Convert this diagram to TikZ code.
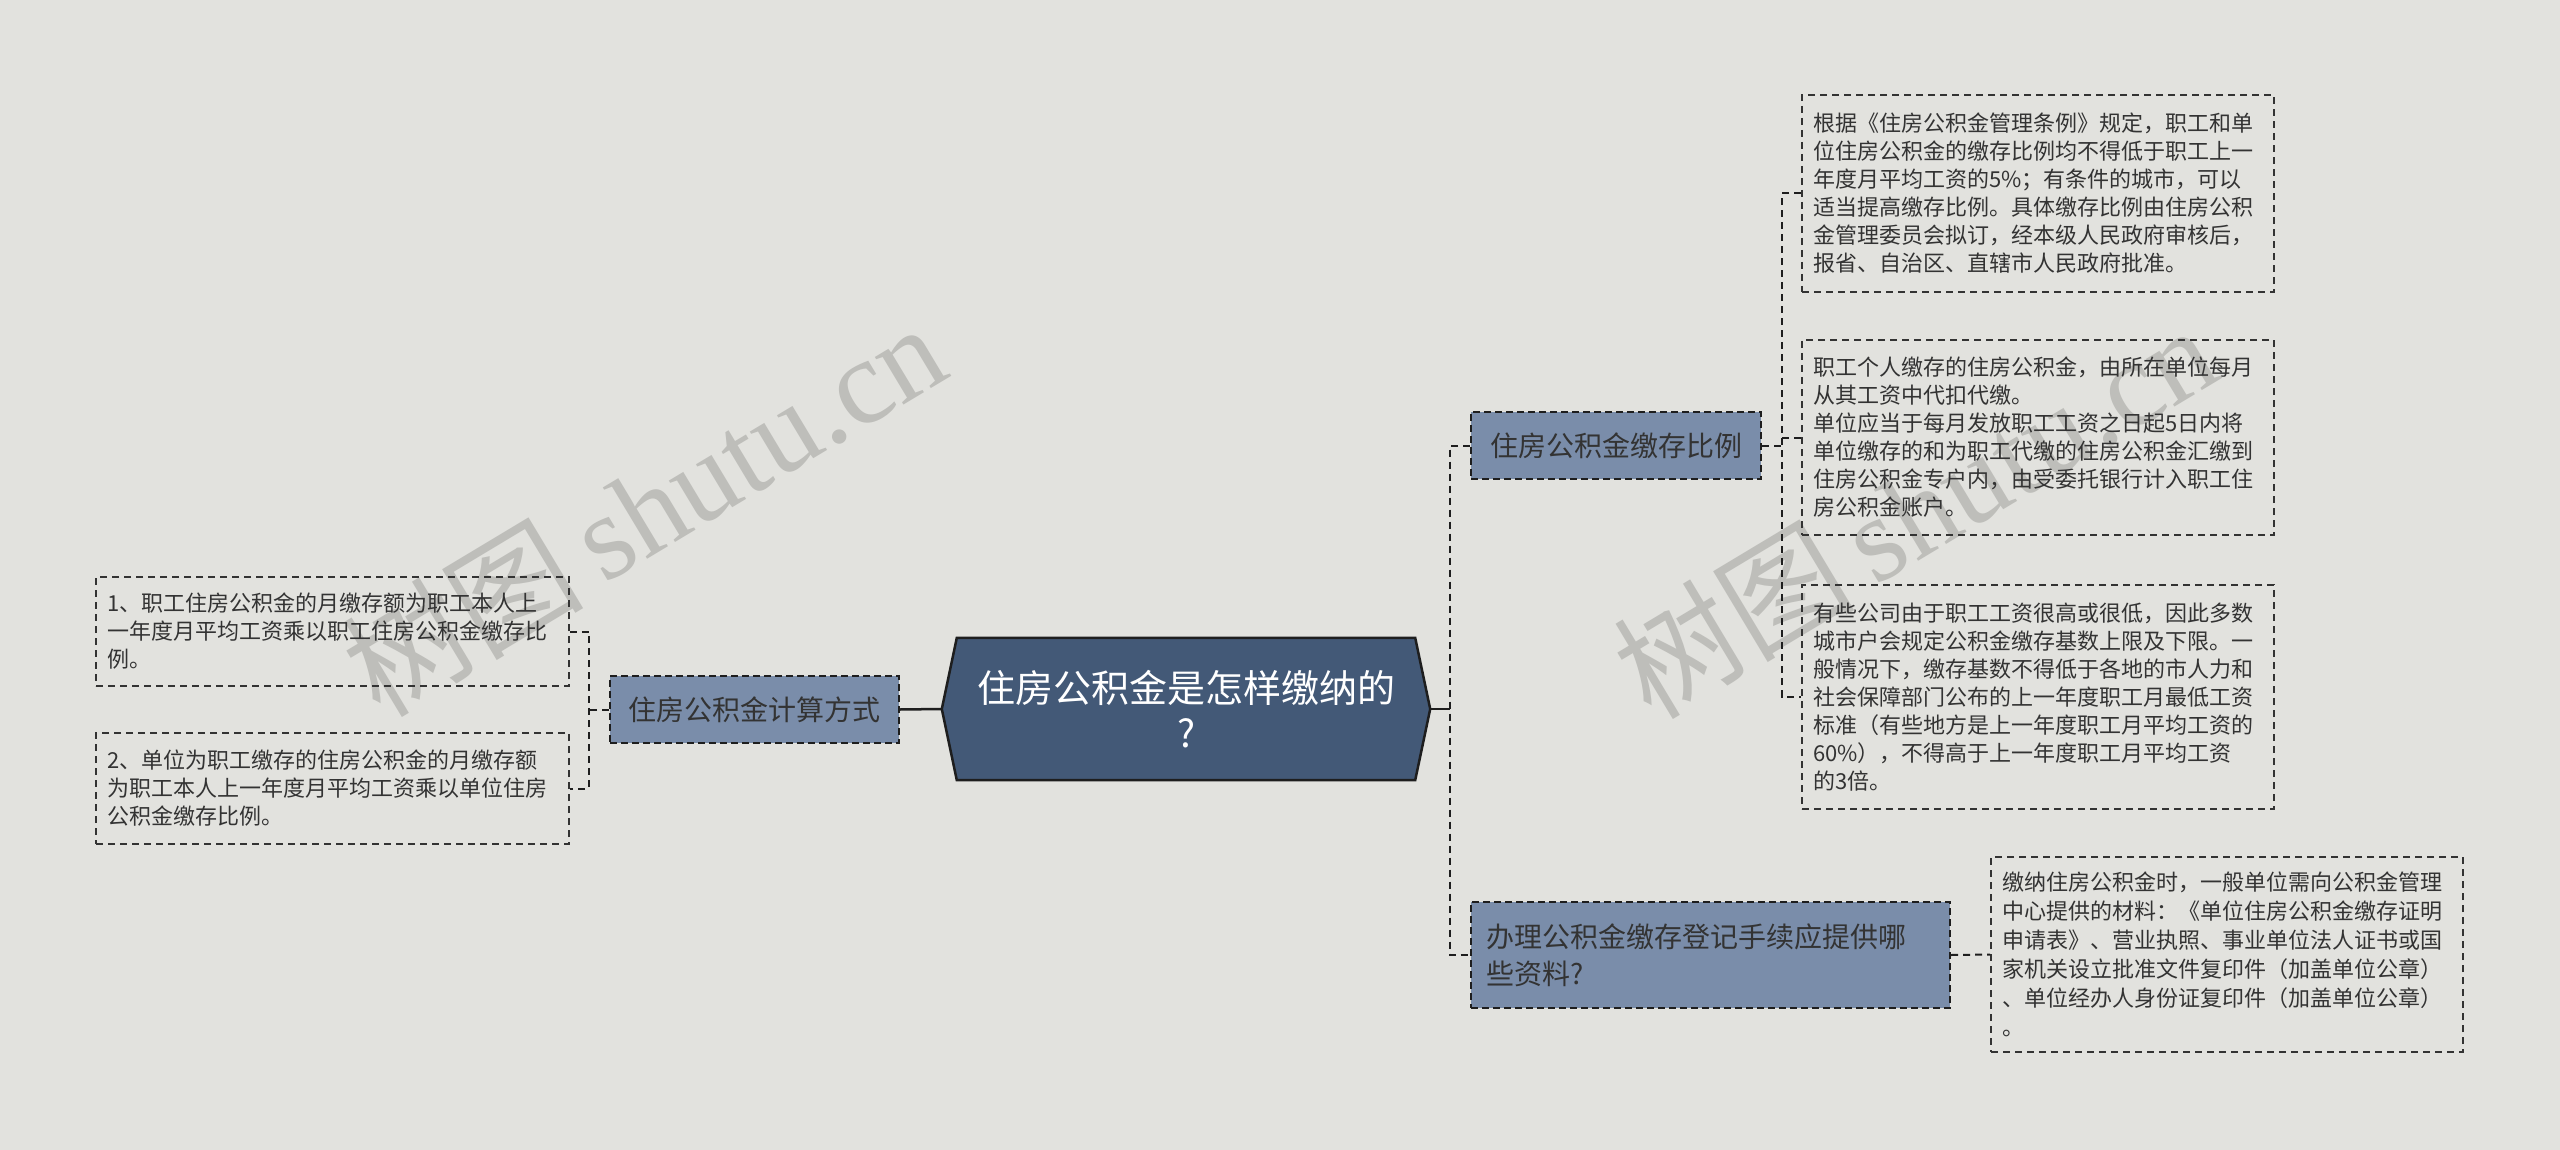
\documentclass[tikz,border=0pt]{standalone}
\usepackage{fontspec}
\setmainfont{Noto Sans CJK SC}
\newfontfamily\wmserif{Liberation Serif}
\usetikzlibrary{backgrounds}
\definecolor{bgc}{HTML}{E2E2DE}
\definecolor{rootc}{HTML}{435977}
\definecolor{branchc}{HTML}{7A8DAA}
\definecolor{inkc}{HTML}{333333}
\definecolor{edgec}{HTML}{1E1E1E}
\definecolor{wmc}{HTML}{BEBEBA}
\begin{document}
\begin{tikzpicture}[x=1pt,y=-1pt,
  conn/.style={draw=edgec,line width=2pt,dash pattern=on 7pt off 5pt},
  solidconn/.style={draw=edgec,line width=2.5pt},
  branch/.style={draw=edgec,fill=branchc,line width=2pt,dash pattern=on 7pt off 4pt,text=inkc,inner sep=0pt,font=\fontsize{28}{37}\selectfont},
  leaf/.style={draw=inkc,line width=1.8pt,dash pattern=on 7pt off 5pt,text=inkc,inner xsep=11pt,inner ysep=0pt,align=left,font=\fontsize{22}{28}\selectfont},
  wm/.style={text=wmc,rotate=31,inner sep=0pt,font=\fontsize{121}{121}\selectfont}]
\begin{scope}[on background layer]
  \fill[bgc] (0,0) rectangle (2560,1150);
  \node[wm] (wm1) at (643,508) {树图{\wmserif\,shutu.cn}};
  \node[wm] (wm2) at (1914,510) {树图{\wmserif\,shutu.cn}};
\end{scope}
\useasboundingbox (0,0) rectangle (2560,1150);

% root
\node[minimum width=488pt,minimum height=142pt,inner sep=0pt,text=white,align=center,
      font=\fontsize{38}{45}\selectfont] (root) at (1186,709) {住房公积金是怎样缴纳的\\?};
\begin{scope}[on background layer]
  \draw[fill=rootc,draw=edgec,line width=2.5pt,line join=miter]
    ([xshift=15pt]root.north west) -- ([xshift=-15pt]root.north east) -- (root.east)
    -- ([xshift=-15pt]root.south east) -- ([xshift=15pt]root.south west) -- (root.west) -- cycle;
\end{scope}

% left branch
\node[branch,minimum width=289pt,minimum height=67pt] (left) at (754.5,709.5) {住房公积金计算方式};
\node[leaf,minimum height=109pt,text width=451pt] (ll1) at (332.5,631.5)
  {1、职工住房公积金的月缴存额为职工本人上\\一年度月平均工资乘以职工住房公积金缴存比\\例。};
\node[leaf,minimum height=111pt,text width=451pt] (ll2) at (332.5,788.5)
  {2、单位为职工缴存的住房公积金的月缴存额\\为职工本人上一年度月平均工资乘以单位住房\\公积金缴存比例。};

% right branches
\node[branch,minimum width=290pt,minimum height=67pt] (rn1) at (1616,445.5) {住房公积金缴存比例};
\node[branch,minimum height=106pt,text width=449pt,inner xsep=15pt,align=left] (rn2) at (1710.5,955)
  {办理公积金缴存登记手续应提供哪\\些资料?};

\node[leaf,minimum height=197pt,text width=450pt] (rl1) at (2038,193.5)
  {根据《住房公积金管理条例》规定，职工和单\\位住房公积金的缴存比例均不得低于职工上一\\年度月平均工资的5\%；有条件的城市，可以\\适当提高缴存比例。具体缴存比例由住房公积\\金管理委员会拟订，经本级人民政府审核后，\\报省、自治区、直辖市人民政府批准。};
\node[leaf,minimum height=195pt,text width=450pt] (rl2) at (2038,437.5)
  {职工个人缴存的住房公积金，由所在单位每月\\从其工资中代扣代缴。\\单位应当于每月发放职工工资之日起5日内将\\单位缴存的和为职工代缴的住房公积金汇缴到\\住房公积金专户内，由受委托银行计入职工住\\房公积金账户。};
\node[leaf,minimum height=224pt,text width=450pt] (rl3) at (2038,697)
  {有些公司由于职工工资很高或很低，因此多数\\城市户会规定公积金缴存基数上限及下限。一\\般情况下，缴存基数不得低于各地的市人力和\\社会保障部门公布的上一年度职工月最低工资\\标准（有些地方是上一年度职工月平均工资的\\60\%），不得高于上一年度职工月平均工资\\的3倍。};
\node[leaf,minimum height=195pt,text width=450pt,font=\fontsize{22}{29}\selectfont] (rl4) at (2227,954.5)
  {缴纳住房公积金时，一般单位需向公积金管理\\中心提供的材料：《单位住房公积金缴存证明\\申请表》、营业执照、事业单位法人证书或国\\家机关设立批准文件复印件（加盖单位公章）\\、单位经办人身份证复印件（加盖单位公章）\\。};

% connectors left
\coordinate (lj) at (589,709.5);
\draw[solidconn] (root.west) -- (left.east);
\draw[conn] (left.west) -- (lj);
\draw[conn] (ll1.east) -- (ll1.east -| lj) -- (ll2.east -| lj) -- (ll2.east);

% connectors right
\coordinate (rj) at (1450,709);
\draw[solidconn] (root.east) -- (rj);
\draw[conn] (rn1.west) -- (rn1.west -| rj) -- (rn2.west -| rj) -- (rn2.west);
\coordinate (rj1) at (1782,445.5);
\draw[conn] (rn1.east) -- (rj1);
\draw[conn] (rl1.west) -- (rl1.west -| rj1) -- (rl3.west -| rj1) -- (rl3.west);
\draw[conn] (rl2.west) -- (rl2.west -| rj1);
\draw[conn] (rn2.east) -- (rl4.west);
\end{tikzpicture}
\end{document}
